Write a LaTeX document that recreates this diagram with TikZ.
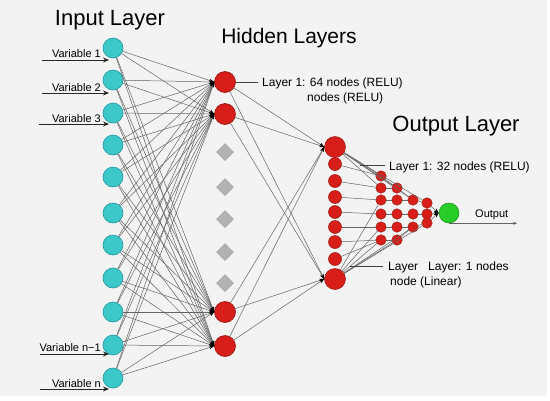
\documentclass[tikz,border=0pt]{standalone}
\usepackage{fontspec}
\setmainfont{Liberation Sans}
\usetikzlibrary{arrows.meta,shapes.geometric}
\definecolor{bg}{RGB}{243,243,243}
\definecolor{cy}{RGB}{60,200,200}
\definecolor{cyd}{RGB}{35,150,155}
\definecolor{rd}{RGB}{215,30,25}
\definecolor{rdd}{RGB}{150,20,15}
\definecolor{gr}{RGB}{40,205,40}
\definecolor{grd}{RGB}{25,140,25}
\definecolor{ln}{RGB}{100,100,100}
\begin{document}
\begin{tikzpicture}[x=1pt,y=-1pt,
 inp/.style={circle,minimum size=20pt,inner sep=0pt,fill=cy,draw=cyd,line width=0.6pt},
 hid/.style={circle,minimum size=21pt,inner sep=0pt,fill=rd,draw=rdd,line width=0.6pt},
 dia/.style={diamond,minimum size=17pt,inner sep=0pt,fill=gray!60,draw=gray!75,line width=0.5pt},
 big/.style={circle,minimum size=21pt,inner sep=0pt,fill=rd,draw=rdd,line width=0.5pt},
 sml/.style={circle,minimum size=13pt,inner sep=0pt,fill=rd,draw=rdd,line width=0.5pt},
 gn/.style={circle,minimum size=10.5pt,inner sep=0pt,fill=rd,draw=rdd,line width=0.4pt},
 outn/.style={circle,minimum size=20pt,inner sep=0pt,fill=gr,draw=grd,line width=0.5pt},
 conn/.style={draw=ln,line width=0.5pt},
 arr/.style={conn,-{Stealth[length=5pt,width=3.5pt,color=black]}},
 inarr/.style={draw=black!85,line width=0.9pt,-{Stealth[length=6pt,width=5pt]},shorten >=4pt},
 title/.style={font=\fontsize{22}{26}\selectfont,inner sep=0pt,anchor=base},
 lbl/.style={font=\fontsize{12}{14}\selectfont,inner sep=0pt,anchor=base west},
 vlbl/.style={font=\fontsize{11}{13}\selectfont,inner sep=0pt,anchor=base east},
]
\useasboundingbox (0,0) rectangle (550,400);
\fill[bg] (0,0) rectangle (547,396);

% input layer
\foreach \y [count=\i] in {48,80,113,145,177,213,245,278,312,345,378}
  \node[inp] (i\i) at (113,\y) {};

% hidden layer 1
\node[hid] (h1) at (225,82) {};
\node[hid] (h2) at (225,114) {};
\node[hid] (h3) at (225,312) {};
\node[hid] (h4) at (225,346) {};
\foreach \y [count=\i] in {152,187,219,252,283}
  \node[dia] (d\i) at (225,\y) {};

% hidden layer 2 column
\node[big] (t) at (335,147) {};
\node[big] (b) at (335,279) {};
\foreach \y [count=\i] in {164,181,197,212,227,242,259}
  \node[sml] (s\i) at (335,\y) {};

% grid
\foreach \y [count=\i] in {176,188,200,214,227,240}
  \node[gn] (A\i) at (381,\y) {};
\foreach \y [count=\i] in {188,200,214,227,240}
  \node[gn] (B\i) at (397,\y) {};
\foreach \y [count=\i] in {200,214,227}
  \node[gn] (C\i) at (413,\y) {};
\foreach \y [count=\i] in {203,214,223}
  \node[gn] (D\i) at (427,\y) {};
\node[outn] (o) at (449,213) {};

% connections input -> hidden 1
\foreach \i in {1,...,11}
  \foreach \j in {1,...,4}
    \draw[arr] (i\i) -- (h\j.west);

% hidden 1 -> hidden 2
\foreach \j in {1,...,4} {
  \draw[arr] (h\j) -- (t.west);
  \draw[arr] (h\j) -- (b.west);
}

% hidden 2 -> grid
\foreach \n in {A1,A2,B1,C1,D1} \draw[conn] (t) -- (\n);
\foreach \n in {A6,A5,B5,C3,D3,A3} \draw[conn] (b) -- (\n);
\foreach \a/\c in {s1/A1,s2/A2,s3/A3,s4/A4,s5/A5,s6/A6,s7/A6} \draw[conn] (\a) -- (\c);
\foreach \a/\c in {A1/B1,A2/B1,A3/B2,A4/B3,A5/B4,A6/B5} \draw[conn] (\a) -- (\c);
\foreach \a/\c in {B1/C1,B2/C1,B3/C2,B4/C3,B5/C3} \draw[conn] (\a) -- (\c);
\foreach \a/\c in {C1/D1,C2/D2,C3/D3} \draw[conn] (\a) -- (\c);
\foreach \a in {D1,D2,D3} \draw[arr] (\a) -- (o.west);

% output arrow
\coordinate (oe) at (517,223);
\draw[conn,-{Stealth[length=4pt,width=3pt]}] (o.south) -- (o.south -| oe);

% titles
\node[title] (tin) at (110,25) {Input Layer};
\node[title,font=\fontsize{21}{25}\selectfont] (thid) at (289,43) {Hidden Layers};
\node[title] (tout) at (456,131) {Output Layer};

% labels
\node[lbl] (l64) at (262,86) {Layer 1: 64 nodes (RELU)};
\node[lbl] (l64b) at (307,101) {nodes (RELU)};
\node[lbl] (l32) at (389,170) {Layer 1: 32 nodes (RELU)};
\node[lbl] (l1) at (388,270) {Layer\hspace{10pt}Layer: 1 nodes};
\node[lbl] (l1b) at (390,285) {node (Linear)};
\node[lbl,font=\fontsize{11}{13}\selectfont] (lo) at (475,217) {Output};

% leader lines
\draw[conn,draw=black!75,shorten >=4pt] (h1) -- (h1 -| l64.west);
\coordinate (c32) at (360,165);
\draw[conn,draw=black!75,shorten >=4pt] (c32) -- (c32 -| l32.west);
\coordinate (c1) at (350,266);
\draw[conn,draw=black!75,shorten >=5pt] (c1) -- (c1 -| l1.west);

% variable labels and input arrows
\node[vlbl] (v1) at (101,57) {Variable 1};
\node[vlbl] (v2) at (101,91) {Variable 2};
\node[vlbl] (v3) at (101,122) {Variable 3};
\node[vlbl] (v10) at (101,351) {Variable n−1};
\node[vlbl] (v11) at (101,387) {Variable n};
\coordinate (a1) at (42,60);
\coordinate (a2) at (42,93);
\coordinate (a3) at (39,124);
\coordinate (a10) at (40,354);
\coordinate (a11) at (40,389);
\foreach \k in {1,2,3,10,11}
  \draw[inarr] (a\k) -- (a\k -| i\k);
\end{tikzpicture}
\end{document}
